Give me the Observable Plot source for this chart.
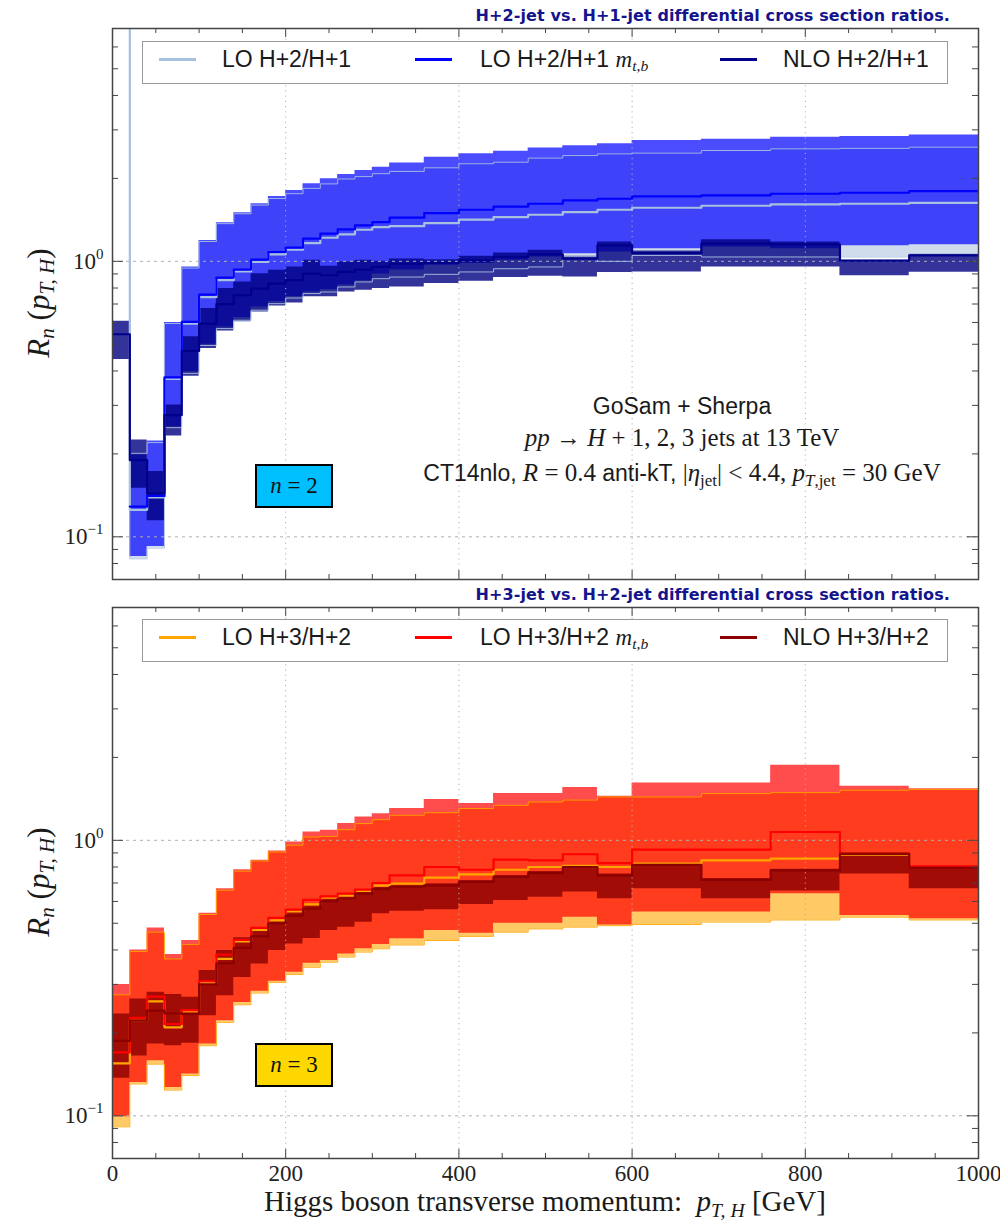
<!DOCTYPE html>
<html><head><meta charset="utf-8">
<script src="https://cdn.jsdelivr.net/npm/d3@7"></script>
<script src="https://cdn.jsdelivr.net/npm/@observablehq/plot@0.6"></script>
<style>
body{margin:0;background:#fff;}
#wrap{position:relative;width:1000px;height:1223px;overflow:hidden;background:#fff;}
.abs{position:absolute;white-space:nowrap;line-height:1;color:#1a1a1a;}
.sans{font-family:"Liberation Sans",Arial,sans-serif;}
.serif{font-family:"Liberation Serif","Times New Roman",serif;}
.ser{font-family:"Liberation Serif","Times New Roman",serif;}
sub{font-size:68%;vertical-align:-0.28em;line-height:0;}
.title{font-family:"DejaVu Sans",sans-serif;font-weight:bold;color:#14148c !important;letter-spacing:0.1px;}
.legend{position:absolute;border:1px solid #999;background:#fff;box-sizing:border-box;}
.sample{position:absolute;height:2.5px;}
.nbox{position:absolute;border:2.5px solid #000;box-sizing:border-box;display:flex;align-items:center;justify-content:center;font-size:23px;font-family:"Liberation Serif",serif;color:#111;}
</style></head>
<body><div id="wrap"></div>
<script>
// ---------- bin edges (GeV) ----------
const edges = [0,20,40,60,80,100,120,140,160,180,200,220,240,260,280,300,320,360,400,440,480,520,560,600,680,760,840,920,1000];

// ---------- axis ticks ----------
const xMajor = [0,200,400,600,800,1000];
const xMinor = [50,100,150,250,300,350,450,500,550,650,700,750,850,900,950];
const yMajor = [0.1,1];
const yMinor = [0.08,0.09,0.2,0.3,0.4,0.5,0.6,0.7,0.8,0.9,2,3,4,5,6];
const gridX = [200,400,600,800];
const gridY = [0.1,1];

// ---------- top panel: H+2 / H+1 (first LO bin lies above the frame) ----------
const h2_LO     = [100,0.1253,0.1389,0.3747,0.5945,0.741,0.854,0.92,0.9945,1.06,1.102,1.165,1.218,1.253,1.302,1.331,1.342,1.377,1.416,1.447,1.476,1.509,1.539,1.565,1.591,1.609,1.618,1.631];
const h2_LO_hi  = [200,0.201,0.2198,0.5945,0.945,1.18,1.37,1.488,1.60,1.69,1.76,1.84,1.91,1.99,2.03,2.08,2.12,2.185,2.26,2.29,2.37,2.42,2.455,2.47,2.525,2.56,2.57,2.596];
const h2_LO_lo  = [50,0.0832,0.091,0.249,0.392,0.495,0.570,0.611,0.6645,0.702,0.736,0.764,0.774,0.807,0.8415,0.865,0.877,0.897,0.915,0.94,0.954,1.043,1.0,1.05,1.037,1.037,1.037,1.066];
const h2_MT     = [null,0.1288,0.1408,0.379,0.6028,0.757,0.873,0.933,1.014,1.081,1.121,1.208,1.26,1.306,1.35,1.388,1.44,1.497,1.539,1.58,1.618,1.664,1.687,1.72,1.734,1.759,1.774,1.798];
const h2_MT_hi  = [null,0.198,0.2228,0.60,0.954,1.191,1.381,1.501,1.618,1.72,1.807,1.911,1.993,2.067,2.136,2.197,2.275,2.388,2.455,2.51,2.58,2.63,2.67,2.745,2.775,2.82,2.84,2.877];
const h2_MT_lo  = [null,0.0849,0.0923,0.251,0.397,0.50,0.578,0.625,0.683,0.715,0.745,0.775,0.79,0.82,0.85,0.90,0.93,0.967,0.981,1.008,1.037,1.066,1.081,1.111,1.127,1.111,1.14,1.149];
const h2_NLO    = [0.5437,0.190,0.1439,0.2767,0.473,0.5945,0.699,0.753,0.796,0.830,0.854,0.902,0.89,0.915,0.933,0.954,0.98,0.986,1.008,1.037,1.06,1.022,1.143,1.072,1.159,1.152,1.005,1.051];
const h2_NLO_hi = [0.6064,0.2246,0.1725,0.3007,0.532,0.674,0.796,0.8415,0.902,0.928,0.954,1.008,0.959,0.9945,1.008,1.0,1.02,1.014,1.043,1.072,1.096,1.043,1.175,1.09,1.198,1.175,1.012,1.06];
const h2_NLO_lo = [0.4403,0.150,0.1143,0.2323,0.383,0.483,0.559,0.603,0.655,0.689,0.706,0.743,0.743,0.774,0.785,0.796,0.807,0.83,0.846,0.873,0.882,0.877,0.91,0.915,0.954,0.954,0.887,0.912];

// ---------- bottom panel: H+3 / H+2 ----------
const h3_LO     = [0.155,0.2215,0.2604,0.2095,0.2396,0.303,0.3713,0.430,0.473,0.512,0.552,0.585,0.619,0.63,0.655,0.685,0.696,0.732,0.752,0.782,0.80,0.808,0.80,0.823,0.846,0.858,0.888,0.80];
const h3_LO_hi  = [0.275,0.395,0.464,0.371,0.419,0.538,0.659,0.773,0.841,0.907,0.96,1.028,1.034,1.093,1.15,1.189,1.233,1.26,1.304,1.34,1.378,1.40,1.437,1.437,1.478,1.49,1.52,1.53];
const h3_LO_lo  = [0.0912,0.1305,0.154,0.124,0.140,0.1797,0.2184,0.253,0.279,0.305,0.326,0.346,0.361,0.377,0.393,0.404,0.417,0.433,0.448,0.464,0.477,0.484,0.490,0.495,0.505,0.514,0.526,0.514];
const h3_MT     = [0.170,0.2266,0.271,0.2154,0.242,0.308,0.385,0.435,0.481,0.523,0.56,0.608,0.626,0.64,0.662,0.70,0.746,0.80,0.782,0.851,0.846,0.89,0.827,0.925,0.925,1.072,0.895,0.804];
const h3_MT_hi  = [0.30,0.40,0.481,0.385,0.433,0.544,0.667,0.782,0.846,0.915,0.986,1.072,1.087,1.15,1.216,1.25,1.304,1.406,1.36,1.478,1.478,1.554,1.445,1.616,1.616,1.874,1.57,1.54];
const h3_MT_lo  = [0.0992,0.1322,0.1585,0.1268,0.1418,0.1823,0.2215,0.258,0.283,0.308,0.332,0.358,0.366,0.387,0.404,0.419,0.439,0.471,0.46,0.50,0.50,0.526,0.493,0.549,0.549,0.64,0.534,0.519];
const h3_NLO    = [0.187,0.2215,0.241,0.2355,0.2345,0.30,0.358,0.407,0.448,0.50,0.533,0.565,0.60,0.615,0.64,0.665,0.677,0.686,0.706,0.736,0.76,0.80,0.746,0.814,0.719,0.778,0.893,0.795];
const h3_NLO_hi = [0.2344,0.2656,0.281,0.2754,0.2693,0.3367,0.398,0.443,0.477,0.5117,0.549,0.578,0.612,0.625,0.65,0.675,0.685,0.695,0.715,0.745,0.77,0.81,0.755,0.822,0.727,0.786,0.90,0.80];
const h3_NLO_lo = [0.137,0.165,0.1823,0.1797,0.1833,0.231,0.273,0.318,0.356,0.398,0.42,0.44,0.471,0.484,0.504,0.541,0.553,0.56,0.585,0.605,0.622,0.649,0.614,0.667,0.614,0.655,0.754,0.667];

// build step tables (one row per bin edge, last edge repeats last bin)
function table(s) {
  return edges.map((x, i) => {
    const j = Math.min(i, edges.length - 2);
    const r = {x};
    for (const k in s) r[k] = s[k][j];
    return r;
  });
}

const wrap = document.getElementById('wrap');

function panel(cfg) {
  const t = table(cfg.s);
  const fh = cfg.height - cfg.mt - cfg.mb;
  const fw = 1000 - 112 - 22;
  const c = cfg.c;
  const st = {x: 'x', curve: 'step-after', clip: true};
  const marks = [
    Plot.areaY(t, {...st, y1: 'loLo', y2: 'loHi', fill: c.loBand, fillOpacity: 0.6}),
    Plot.areaY(t, {...st, y1: 'mtLo', y2: 'mtHi', fill: c.mt, fillOpacity: 0.7}),
    Plot.areaY(t, {...st, y1: 'nloLo', y2: 'nloHi', fill: c.nloBand, fillOpacity: 0.8}),
    Plot.ruleX(gridX, {stroke: '#b0b0b0', strokeWidth: 1, strokeDasharray: '1.2,4'}),
    Plot.ruleY(gridY, {stroke: '#b0b0b0', strokeWidth: 1, strokeDasharray: '3,4'}),
    Plot.lineY(t, {...st, y: 'loHi', stroke: c.lo, strokeWidth: 1, strokeOpacity: 0.9}),
    Plot.lineY(t, {...st, y: 'loLo', stroke: c.lo, strokeWidth: 1, strokeOpacity: 0.9}),
    Plot.lineY(t, {...st, y: 'lo', stroke: c.lo, strokeWidth: 2.2}),
    Plot.lineY(t, {...st, y: 'mt', stroke: c.mt, strokeWidth: 2.2}),
    Plot.lineY(t, {...st, y: 'nlo', stroke: c.nlo, strokeWidth: 2.2}),
    Plot.tickX(xMajor, {x: d => d, insetTop: fh - 9, stroke: '#444'}),
    Plot.tickX(xMajor, {x: d => d, insetBottom: fh - 9, stroke: '#444'}),
    Plot.tickX(xMinor, {x: d => d, insetTop: fh - 5, stroke: '#444'}),
    Plot.tickX(xMinor, {x: d => d, insetBottom: fh - 5, stroke: '#444'}),
    Plot.tickY(yMajor, {y: d => d, insetRight: fw - 11, stroke: '#444'}),
    Plot.tickY(yMajor, {y: d => d, insetLeft: fw - 11, stroke: '#444'}),
    Plot.tickY(yMinor, {y: d => d, insetRight: fw - 6, stroke: '#444'}),
    Plot.tickY(yMinor, {y: d => d, insetLeft: fw - 6, stroke: '#444'}),
    Plot.frame({stroke: '#444', strokeWidth: 1.5})
  ];
  const svg = Plot.plot({
    width: 1000, height: cfg.height,
    marginLeft: 112, marginRight: 22, marginTop: cfg.mt, marginBottom: cfg.mb,
    x: {domain: [0, 1000], axis: cfg.showX ? 'bottom' : null, ticks: xMajor, tickSize: 0, tickPadding: 6, tickFormat: d => String(d), label: null},
    y: {type: 'log', domain: [0.07, 7], ticks: yMajor, tickSize: 0, tickPadding: 9,
        tickFormat: d => '10^' + Math.round(Math.log10(d)), label: null},
    style: {fontFamily: '"Liberation Serif", serif', fontSize: '23px', color: '#222', background: 'transparent', overflow: 'visible'},
    marks
  });
  svg.querySelectorAll('text').forEach(tx => {
    const s = tx.textContent;
    if (s.startsWith('10^')) {
      const e = s.slice(3).replace('-', '\u2212');
      tx.textContent = '';
      const a = document.createElementNS('http://www.w3.org/2000/svg', 'tspan');
      a.textContent = '10';
      const b = document.createElementNS('http://www.w3.org/2000/svg', 'tspan');
      b.setAttribute('dy', '-10'); b.setAttribute('font-size', '15');
      b.textContent = e;
      tx.appendChild(a); tx.appendChild(b);
    }
  });
  const holder = document.createElement('div');
  holder.style.position = 'absolute'; holder.style.left = '0px'; holder.style.top = cfg.top + 'px';
  holder.appendChild(svg);
  wrap.appendChild(holder);
}

panel({
  top: 0, height: 582, mt: 28, mb: 3, showX: false,
  s: {lo: h2_LO, loHi: h2_LO_hi, loLo: h2_LO_lo, mt: h2_MT, mtHi: h2_MT_hi, mtLo: h2_MT_lo, nlo: h2_NLO, nloHi: h2_NLO_hi, nloLo: h2_NLO_lo},
  c: {lo: '#a8c0e0', loBand: '#b0c4de', mt: '#0000ff', nlo: '#00008b', nloBand: '#000080'}
});
panel({
  top: 582, height: 641, mt: 25, mb: 65, showX: true,
  s: {lo: h3_LO, loHi: h3_LO_hi, loLo: h3_LO_lo, mt: h3_MT, mtHi: h3_MT_hi, mtLo: h3_MT_lo, nlo: h3_NLO, nloHi: h3_NLO_hi, nloLo: h3_NLO_lo},
  c: {lo: '#ffa500', loBand: '#ffa500', mt: '#ff0000', nlo: '#8b0000', nloBand: '#8b0000'}
});

// ---------- text overlays ----------
function put(html, o) {
  const d = document.createElement('div');
  d.className = 'abs ' + (o.cls || '');
  d.innerHTML = html;
  d.style.fontSize = o.size + 'px';
  d.style.left = o.x + 'px';
  d.style.top = (o.base - 0.85 * o.size) + 'px';
  if (o.anchor === 'middle') d.style.transform = 'translateX(-50%)';
  else if (o.anchor === 'end') d.style.transform = 'translateX(-100%)';
  wrap.appendChild(d);
  return d;
}

// titles
put('H+2-jet vs. H+1-jet differential cross section ratios.', {x: 950, base: 22, size: 16, cls: 'title', anchor: 'end'});
put('H+3-jet vs. H+2-jet differential cross section ratios.', {x: 950, base: 601, size: 16, cls: 'title', anchor: 'end'});

// legends
const legendLabels = [
  ['LO H+2/H+1', 'LO H+2/H+1 <span class="ser"><i>m</i><sub><i>t,b</i></sub></span>', 'NLO H+2/H+1'],
  ['LO H+3/H+2', 'LO H+3/H+2 <span class="ser"><i>m</i><sub><i>t,b</i></sub></span>', 'NLO H+3/H+2']
];
const legendColors = [['#a8c0e0', '#0000ff', '#00008b'], ['#ffa500', '#ff0000', '#8b0000']];
const legendTop = [41, 619];
const sampleX = [159, 415, 720];
const textX = [222, 480, 783];
legendTop.forEach((lt, p) => {
  const box = document.createElement('div');
  box.className = 'legend';
  box.style.left = '142px'; box.style.top = lt + 'px'; box.style.width = '806px'; box.style.height = '43px';
  wrap.appendChild(box);
  for (let k = 0; k < 3; k++) {
    const s = document.createElement('div');
    s.className = 'sample';
    s.style.left = sampleX[k] + 'px'; s.style.width = '37px'; s.style.top = (lt + 17) + 'px';
    s.style.background = legendColors[p][k];
    wrap.appendChild(s);
    put(legendLabels[p][k], {x: textX[k], base: lt + 27, size: 23, cls: 'sans'});
  }
});

// n boxes
[[464, '#00bfff', '2'], [1043, '#ffd700', '3']].forEach(([tp, col, n]) => {
  const b = document.createElement('div');
  b.className = 'nbox';
  b.style.left = '255px'; b.style.top = tp + 'px'; b.style.width = '78px'; b.style.height = '44px';
  b.style.background = col;
  b.innerHTML = '<span><i>n</i> = ' + n + '</span>';
  wrap.appendChild(b);
});

// annotation block
put('GoSam + Sherpa', {x: 682, base: 415, size: 23, cls: 'sans', anchor: 'middle'});
put('<i>pp</i> \u2192 <i>H</i> + 1, 2, 3 jets at 13 TeV', {x: 682, base: 446, size: 25, cls: 'serif', anchor: 'middle'});
put('<span class="sans" style="font-size:23px">CT14nlo,</span> <i>R</i> = 0.4 <span class="sans" style="font-size:23px">anti-kT,</span> |<i>\u03b7</i><sub>jet</sub>| &lt; 4.4, <i>p</i><sub><i>T</i>,jet</sub> = 30 GeV',
    {x: 682, base: 481, size: 25, cls: 'serif', anchor: 'middle'});

// axis labels
put('Higgs boson transverse momentum:&nbsp; <i>p</i><sub><i>T, H</i></sub> [GeV]', {x: 545, base: 1212, size: 29, cls: 'serif', anchor: 'middle'});
[303, 882].forEach(cy => {
  const d = document.createElement('div');
  d.className = 'abs serif';
  d.style.fontSize = '31px';
  d.innerHTML = '<i>R</i><sub><i>n</i></sub> (<i>p</i><sub><i>T, H</i></sub>)';
  d.style.left = '38px'; d.style.top = cy + 'px';
  d.style.transform = 'translate(-50%,-50%) rotate(-90deg)';
  wrap.appendChild(d);
});
</script></body></html>
